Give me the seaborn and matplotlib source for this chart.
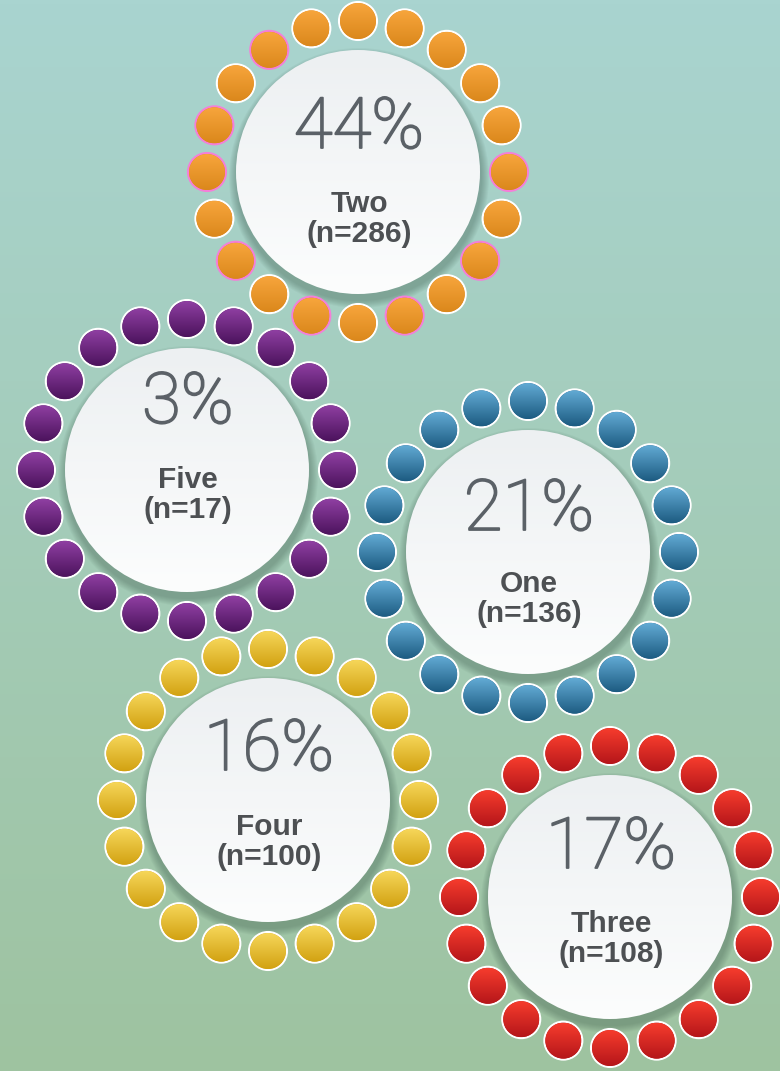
import numpy as np
import pandas as pd
import matplotlib
matplotlib.use('Agg')
import matplotlib.pyplot as plt
import matplotlib.patheffects as pe
from matplotlib.colors import to_rgb
from matplotlib.patches import Circle
import seaborn as sns

# data
groups = ['Two', 'Five', 'One', 'Four', 'Three']
percents = [44, 3, 21, 16, 17]
counts = [286, 17, 136, 100, 108]

# layout (pixel coordinates of each badge) and styling
centres_x = [358, 187, 528, 268, 610]
centres_y = [172, 470, 552, 800, 897]
pct_offset = [-24, -47, -22, -30, -29]
label_offset = [40, 18, 40, 35, 35]
top_colours = ['#f7a53c', '#8f3fa2', '#62aad4', '#f6d659', '#f63c2d']
bottom_colours = ['#db881c', '#4c135d', '#1d5c82', '#d2a212', '#b5161a']
pink_dots = {'Two': [5, 7, 9, 11, 13, 15, 16, 18]}

n_dots = 20
ring_r = 151
dot_r = 18
badge_r = 122

sns.set_theme(style='white')

fig = plt.figure(figsize=(7.8, 10.71), dpi=100)
ax = fig.add_axes([0, 0, 1, 1])
ax.set_axis_off()

# background gradient
bg_top = np.array(to_rgb('#a9d4d0'))
bg_bot = np.array(to_rgb('#9ec3a0'))
t = np.linspace(0, 1, 256)[:, None, None]
bg = bg_top * (1 - t) + bg_bot * t
ax.imshow(bg, extent=(0, 780, 1071, 0), aspect='auto', zorder=0)


def gradient_disc(x, y, r, c_top, c_bot, zorder):
    tt = np.linspace(0, 1, 64)[:, None, None]
    img = np.array(to_rgb(c_top)) * (1 - tt) + np.array(to_rgb(c_bot)) * tt
    im = ax.imshow(img, extent=(x - r, x + r, y + r, y - r), aspect='auto',
                   zorder=zorder, interpolation='bilinear')
    clip = Circle((x, y), r, transform=ax.transData)
    im.set_clip_path(clip)


angles = np.deg2rad(90 - 360 / n_dots * np.arange(n_dots))
marker_s = (2 * (dot_r + 1) * 0.72) ** 2
pct_colour = '#5b6167'
# thicken the light face a little so it reads like the original
thicken = [pe.withStroke(linewidth=1.3, foreground=pct_colour)]

for i, g in enumerate(groups):
    cx, cy = centres_x[i], centres_y[i]

    # soft shadow under the white badge
    for k in range(8):
        ax.add_patch(Circle((cx + 1, cy + 6), badge_r + 8 - k, color='#3c5a4c',
                            alpha=0.05, lw=0, zorder=1))
    gradient_disc(cx, cy, badge_r, '#edf0f2', '#fcfdfd', 2)

    dots = pd.DataFrame({'x': cx + ring_r * np.cos(angles),
                         'y': cy - ring_r * np.sin(angles)})
    edges = ['#f47fd8' if j in pink_dots.get(g, []) else 'white'
             for j in range(n_dots)]
    sns.scatterplot(data=dots, x='x', y='y', s=marker_s, color=bottom_colours[i],
                    edgecolor=edges, linewidth=1.5, legend=False, ax=ax, zorder=3)
    for _, row in dots.iterrows():
        gradient_disc(row['x'], row['y'], dot_r, top_colours[i], bottom_colours[i], 4)

    ax.text(cx + 1, cy + pct_offset[i], f'{percents[i]}%', ha='center', va='baseline',
            fontsize=51, family=['Roboto', 'DejaVu Sans'], fontweight='light',
            color=pct_colour, zorder=6, path_effects=thicken)
    ax.text(cx + 1, cy + label_offset[i], g, ha='center', va='baseline',
            fontsize=21.5, family=['Liberation Sans', 'DejaVu Sans'], fontweight='bold',
            color='#4d5053', zorder=6)
    ax.text(cx + 1, cy + label_offset[i] + 30, f'(n={counts[i]})', ha='center',
            va='baseline', fontsize=21.5, family=['Liberation Sans', 'DejaVu Sans'],
            fontweight='bold', color='#4d5053', zorder=6)

ax.set_xlim(0, 780)
ax.set_ylim(1071, 0)

fig.savefig('out.png', dpi=100)
